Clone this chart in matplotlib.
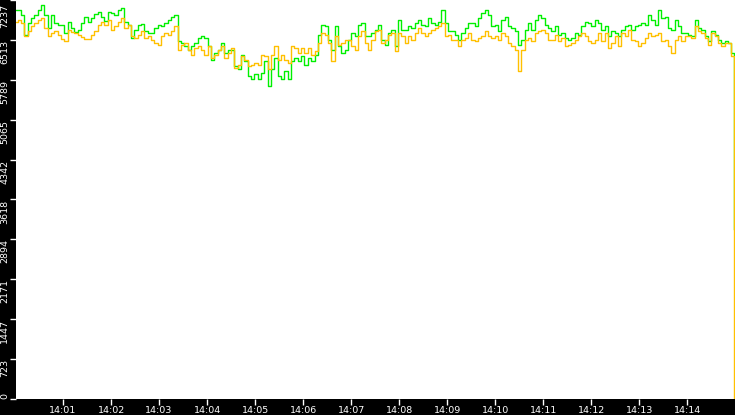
import datetime as dt
import numpy as np
import matplotlib
matplotlib.use("Agg")
import matplotlib.pyplot as plt
import matplotlib.dates as mdates
from matplotlib.transforms import ScaledTranslation

# ---- data ----
green = [
    7057, 7057, 6967, 6607, 6817, 6907, 6967, 7057, 7147, 6967, 6727, 6967, 6817, 6787, 6787, 6637, 6847, 6727,
    6655, 6697, 6817, 6937, 6847, 6907, 6985, 7027, 6937, 6865, 7027, 6997, 6967, 7057, 7087, 6847, 6787, 6547,
    6697, 6787, 6805, 6667, 6637, 6637, 6727, 6787, 6757, 6817, 6877, 6937, 6967, 6487, 6457, 6397, 6337, 6397,
    6457, 6547, 6577, 6547, 6397, 6157, 6277, 6337, 6457, 6277, 6337, 6337, 6037, 5977, 6247, 6127, 5857, 5797,
    5887, 5797, 5917, 6127, 5677, 5977, 6187, 5857, 5797, 5947, 5797, 6127, 6187, 6127, 6217, 6067, 6187, 6127,
    6247, 6607, 6787, 6757, 6517, 6337, 6757, 6397, 6277, 6337, 6517, 6637, 6577, 6787, 6817, 6577, 6577, 6637,
    6697, 6787, 6517, 6427, 6637, 6697, 6397, 6877, 6697, 6697, 6757, 6727, 6817, 6877, 6787, 6757, 6907, 6817,
    6787, 6847, 7057, 6817, 6667, 6667, 6607, 6517, 6637, 6727, 6817, 6817, 6757, 6907, 6997, 7057, 6967, 6757,
    6787, 6667, 6877, 6937, 6757, 6727, 6667, 6427, 6517, 6697, 6817, 6697, 6877, 6967, 6907, 6787, 6727, 6667,
    6757, 6607, 6637, 6547, 6517, 6547, 6637, 6607, 6757, 6847, 6817, 6757, 6877, 6817, 6697, 6757, 6577, 6667,
    6637, 6577, 6697, 6757, 6787, 6697, 6757, 6787, 6817, 6787, 6967, 6877, 6787, 7057, 6907, 6937, 6727, 6697,
    6877, 6757, 6637, 6637, 6607, 6577, 6877, 6727, 6697, 6577, 6487, 6667, 6607, 6517, 6457, 6487, 6457, 6277,
    3077,
]
orange = [
    6847, 6877, 6817, 6577, 6667, 6757, 6817, 6877, 6907, 6727, 6577, 6637, 6667, 6607, 6529, 6487, 6697, 6655,
    6637, 6607, 6565, 6529, 6529, 6607, 6667, 6787, 6847, 6787, 6877, 6697, 6769, 6847, 6907, 6727, 6787, 6577,
    6547, 6607, 6667, 6547, 6577, 6517, 6457, 6427, 6577, 6637, 6607, 6667, 6757, 6337, 6427, 6457, 6337, 6247,
    6367, 6397, 6337, 6247, 6397, 6187, 6247, 6337, 6397, 6187, 6277, 6367, 6007, 6067, 6217, 6157, 6037, 6067,
    6097, 6067, 6247, 6217, 5977, 6247, 6397, 6157, 6247, 6157, 6097, 6397, 6367, 6277, 6367, 6277, 6367, 6247,
    6307, 6457, 6637, 6607, 6457, 6127, 6577, 6427, 6457, 6517, 6517, 6397, 6337, 6577, 6667, 6457, 6337, 6517,
    6667, 6697, 6457, 6517, 6607, 6637, 6307, 6637, 6577, 6457, 6577, 6517, 6637, 6727, 6637, 6577, 6637, 6697,
    6727, 6757, 6817, 6577, 6607, 6517, 6517, 6397, 6517, 6547, 6637, 6517, 6487, 6547, 6577, 6667, 6577, 6547,
    6577, 6517, 6637, 6577, 6457, 6397, 6337, 5947, 6337, 6517, 6547, 6487, 6637, 6667, 6697, 6637, 6517, 6517,
    6607, 6487, 6547, 6397, 6427, 6457, 6517, 6577, 6637, 6577, 6487, 6457, 6517, 6637, 6487, 6637, 6367, 6457,
    6577, 6397, 6637, 6577, 6697, 6517, 6487, 6397, 6457, 6547, 6637, 6577, 6607, 6637, 6487, 6517, 6397, 6277,
    6517, 6577, 6487, 6577, 6577, 6547, 6757, 6667, 6637, 6547, 6427, 6637, 6577, 6457, 6397, 6457, 6457, 6217,
    0,
]
y_ticks_labels = ["0", "723", "1447", "2171", "2894", "3618", "4342", "5065", "5789", "6513", "7237"]
y_max = 7237

# sample times: regular grid, seconds after 14:00:00
base = dt.datetime(2024, 1, 1, 14, 0, 0)
n = len(green) - 1
secs = list(np.linspace(1.25, 897.1, n)) + [898.4]
times = [base + dt.timedelta(seconds=float(s)) for s in secs]

W, H = 735, 415
fig = plt.figure(figsize=(W / 100, H / 100), dpi=100, facecolor="black")
ax = fig.add_axes([16 / W, 16 / H, 719 / W, 399 / H])
ax.set_facecolor("white")

ax.plot(times, green, color="#00f000", lw=1.0, drawstyle="steps-mid")
ax.plot(times, orange, color="#ffc000", lw=1.0, drawstyle="steps-mid")

ax.set_xlim(base + dt.timedelta(seconds=1.25), base + dt.timedelta(seconds=899.5))
ax.set_ylim(0, y_max)

for s in ax.spines.values():
    s.set_visible(False)

ax.xaxis.set_major_locator(mdates.MinuteLocator())
ax.xaxis.set_major_formatter(mdates.DateFormatter("%H:%M"))
ax.tick_params(axis="x", colors="white", length=4, width=1, pad=1, labelsize=6.8)

ax.set_yticks(np.linspace(0, y_max, len(y_ticks_labels)), labels=y_ticks_labels)
ax.tick_params(axis="y", colors="white", length=4.3, width=1, pad=0.5, labelsize=6.8)
labels = ax.get_yticklabels()
for lbl in labels:
    lbl.set_rotation(90)
    lbl.set_va("top")
labels[0].set_va("bottom")
labels[-1].set_transform(labels[-1].get_transform() + ScaledTranslation(0, -3 / 72, fig.dpi_scale_trans))

fig.savefig("out.png", dpi=100, facecolor="black")
